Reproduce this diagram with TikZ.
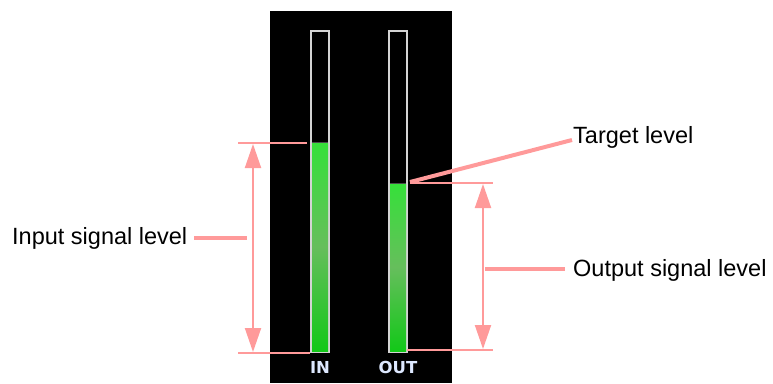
\documentclass[tikz,border=0pt]{standalone}
\usepackage{fontspec}
\setmainfont{Liberation Sans}
\newfontfamily\meterfont{DejaVu Sans}
\usetikzlibrary{arrows.meta}
\definecolor{pinkline}{HTML}{FF9A9A}
\definecolor{gtop}{HTML}{36E03A}
\definecolor{gmid}{HTML}{66BE5C}
\definecolor{gbot}{HTML}{12C818}
\definecolor{meterborder}{HTML}{D4D4D4}
\definecolor{meterlabel}{HTML}{DDE8FF}
\tikzset{
  thinlead/.style={draw=pinkline, line width=2pt},
  thicklead/.style={draw=pinkline, line width=4pt},
  dimarrow/.style={draw=pinkline, line width=2pt, {Triangle[length=24pt,width=16pt]}-{Triangle[length=24pt,width=16pt]}},
  callout/.style={font=\fontsize{23.5}{26}\selectfont, inner sep=0pt, anchor=base west, text=black},
  meterbox/.style={draw=meterborder, line width=1.5pt, fill=black},
  metertext/.style={font=\meterfont\bfseries\fontsize{16.5}{18}\selectfont, text=meterlabel, inner sep=0pt, anchor=base}
}
\begin{document}
\begin{tikzpicture}[x=1pt,y=-1pt]
\useasboundingbox (0,0) rectangle (773,383);
% panel
\fill[black] (270,11) rectangle (452,383);
% IN meter
\draw[meterbox] (311,31) rectangle (329,352);
\shade[top color=gtop, bottom color=gbot, middle color=gmid] (312,143) rectangle (328,351);
\draw[black!70, line width=0.8pt] (312,142.6) -- (328,142.6);
% OUT meter
\draw[meterbox] (389,31) rectangle (407,352);
\shade[top color=gtop, bottom color=gbot, middle color=gmid] (390,184) rectangle (406,351);
\draw[black!70, line width=0.8pt] (390,183.6) -- (406,183.6);
% meter labels
\node[metertext] (inlbl) at (320,373) {IN};
\node[metertext] (outlbl) at (398,373) {OUT};
% input dimension
\coordinate (intopL) at (238,143);
\coordinate (intopR) at (307,143);
\coordinate (inbotL) at (238,353);
\coordinate (inbotR) at (310,353);
\draw[thinlead] (intopL) -- (intopR);
\draw[thinlead] (inbotL) -- (inbotR);
\coordinate (inarrT) at (253,144);
\coordinate (inarrB) at (253,352);
\draw[dimarrow] (inarrT) -- (inarrB);
\node[callout] (inputlab) at (12,244) {Input signal level};
\coordinate (inlead) at (247,237.5);
\draw[thicklead] ([xshift=7pt]inputlab.east |- inlead) -- (inlead);
% output dimension
\coordinate (outtopL) at (410,183);
\coordinate (outtopR) at (493,183);
\coordinate (outbotL) at (407,350);
\coordinate (outbotR) at (493,350);
\draw[thinlead] (outtopL) -- (outtopR);
\draw[thinlead] (outbotL) -- (outbotR);
\coordinate (outarrT) at (483,184);
\coordinate (outarrB) at (483,349);
\draw[dimarrow] (outarrT) -- (outarrB);
\node[callout] (outputlab) at (573,276) {Output signal level};
\coordinate (outlead) at (485,269);
\draw[thicklead] (outlead) -- ([xshift=-8pt]outputlab.west |- outlead);
% target
\node[callout] (targetlab) at (573,143) {Target level};
\coordinate (tgtpt) at (410,182);
\coordinate (tgtend) at (572,140);
\draw[thicklead] (tgtpt) -- (tgtend);
\end{tikzpicture}
\end{document}
